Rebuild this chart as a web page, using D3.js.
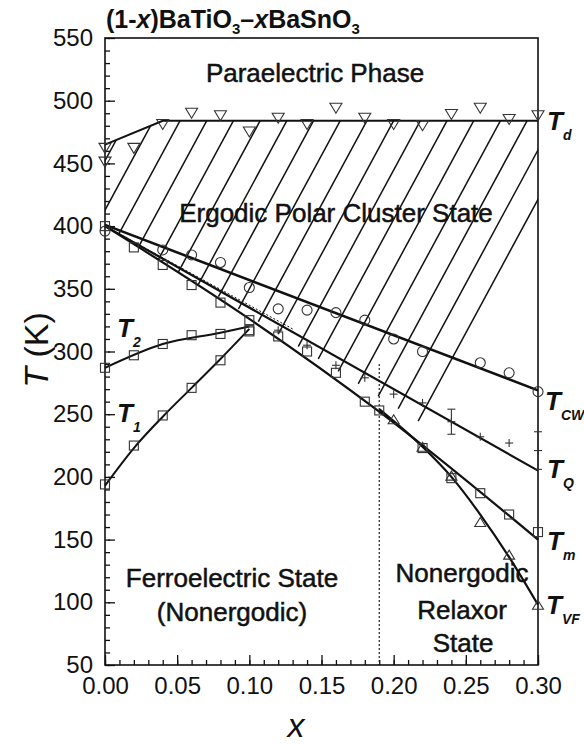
<!DOCTYPE html>
<html>
<head>
<meta charset="utf-8">
<script src="https://cdn.jsdelivr.net/npm/d3@7"></script>
<style>
  body { margin: 0; background: #fff; }
  svg text { font-family: "Liberation Sans", Arial, sans-serif; fill: #111; }
  .axis path { display: none; }
  .axis line { stroke: #111; stroke-width: 1.3; }
  .axis text { font-size: 24px; fill: #111; }
</style>
</head>
<body>
<div id="chart"></div>
<script>
// DATA
////////////////////////////
// composition x and temperature T (K)
var tdX   = [0, 0, 0.02, 0.04, 0.06, 0.08, 0.10, 0.12, 0.14, 0.16, 0.18, 0.20, 0.22, 0.24, 0.26, 0.28, 0.30];
var tdT   = [462, 451, 462, 481, 490, 488, 475, 486, 481, 494, 486, 481, 480, 489, 494, 485, 488];

var tcwX  = [0, 0.04, 0.06, 0.08, 0.10, 0.12, 0.14, 0.16, 0.18, 0.20, 0.22, 0.26, 0.28, 0.30];
var tcwT  = [396, 381, 377, 371, 351, 334, 333, 331, 325, 310, 300, 291, 283, 268];

var tqX   = [0.12, 0.14, 0.16, 0.18, 0.20, 0.22, 0.24, 0.26, 0.28, 0.30];
var tqT   = [317, 305, 289, 279, 266, 259, 244, 232, 227, 221];
var tqErr = [0, 0, 0, 0, 0, 0, 10, 0, 0, 15];

var tmX   = [0, 0.02, 0.04, 0.06, 0.08, 0.10, 0.12, 0.14, 0.16, 0.18, 0.19, 0.22, 0.24, 0.26, 0.28, 0.30];
var tmT   = [400, 383, 369, 353, 339, 325, 312, 300, 283, 260, 253, 223, 199, 187, 170, 156];

var tvfX  = [0.20, 0.22, 0.24, 0.26, 0.28, 0.30];
var tvfT  = [246, 224, 201, 164, 138, 98];

var t1X   = [0, 0.02, 0.04, 0.06, 0.08, 0.10];
var t1T   = [194, 225, 249, 271, 293, 316];
var t2X   = [0, 0.02, 0.04, 0.06, 0.08, 0.10];
var t2T   = [287, 297, 306, 313, 314, 317];

// guide lines drawn through the points
var tdLine   = [[0, 465], [0.04, 484], [0.30, 484]];
var tcwLine  = [[0, 401], [0.30, 269]];
var tqLine   = [[0, 400], [0.30, 205]];
var tmLine   = [[0, 400], [0.10, 326], [0.19, 252], [0.30, 150]];
var tvfLine  = [[0.19, 254], [0.22, 224], [0.24, 200], [0.26, 170], [0.28, 136], [0.30, 98]];
var t1Line   = [[0, 193], [0.02, 223], [0.04, 248], [0.06, 271], [0.08, 294], [0.10, 318]];
var t2Line   = [[0, 287], [0.04, 306], [0.08, 315], [0.10, 320]];
var dotLine  = [[0, 400], [0.13, 318]];
var boundaryX = 0.19, boundaryTop = 290;
// hatched (ergodic) region
var hatchArea = [[0, 400], [0, 465], [0.04, 484], [0.30, 484], [0.30, 185]];

var yTicks = d3.range(50, 551, 50);
var xTicks = [0, 0.05, 0.10, 0.15, 0.20, 0.25, 0.30];

// SETUP
////////////////////////////
var width = 584,
    height = 744;

var x = d3.scaleLinear().domain([0, 0.30]).range([105, 538]);
var y = d3.scaleLinear().domain([50, 550]).range([665, 38]);

var svg = d3.select("#chart").append("svg")
    .attr("width", width)
    .attr("height", height);

var line = d3.line()
    .x(function(d) { return x(d[0]); })
    .y(function(d) { return y(d[1]); });
var curve = d3.line()
    .x(function(d) { return x(d[0]); })
    .y(function(d) { return y(d[1]); })
    .curve(d3.curveMonotoneX);

// hatching, clipped to the ergodic region
svg.append("clipPath").attr("id", "hatchClip")
  .append("path")
    .attr("d", line(hatchArea) + "Z");

var hatch = svg.append("g").attr("clip-path", "url(#hatchClip)");
var slope = 1.85, yRef = y(484);
d3.range(-20, 16).forEach(function(k) {
  var cx = 180 + 26.7 * k, d = 500;
  hatch.append("line")
    .attr("x1", cx - d).attr("y1", yRef + slope * d)
    .attr("x2", cx + d).attr("y2", yRef - slope * d)
    .attr("stroke", "#111").attr("stroke-width", 1.5);
});

// axes: minor + major ticks pointing inward
svg.append("g").attr("class", "axis")
    .attr("transform", "translate(105,0)")
    .call(d3.axisLeft(y).tickValues(d3.range(50, 551, 10)).tickSize(-5).tickFormat(""));
svg.append("g").attr("class", "axis")
    .attr("transform", "translate(105,0)")
    .call(d3.axisLeft(y).tickValues(yTicks).tickSizeInner(-10).tickPadding(12))
  .selectAll("line").attr("x1", 3);
svg.append("g").attr("class", "axis")
    .attr("transform", "translate(0,665)")
    .call(d3.axisBottom(x).tickValues(d3.range(0, 0.3001, 0.01)).tickSize(-5).tickFormat(""));
svg.append("g").attr("class", "axis")
    .attr("transform", "translate(0,665)")
    .call(d3.axisBottom(x).tickValues(xTicks).tickSizeInner(-10).tickPadding(12).tickFormat(d3.format(".2f")));

// frame
svg.append("rect")
    .attr("x", 105).attr("y", 38)
    .attr("width", 433).attr("height", 627)
    .attr("fill", "none").attr("stroke", "#111").attr("stroke-width", 1.6);

// guide lines
function drawLine(pts, w, gen, dash) {
  svg.append("path")
    .attr("d", (gen || line)(pts))
    .attr("fill", "none")
    .attr("stroke", "#111")
    .attr("stroke-width", w)
    .attr("stroke-dasharray", dash || null);
}
drawLine(tdLine, 2);
drawLine(tcwLine, 2.6);
drawLine(tqLine, 2.2);
drawLine(tmLine, 2.2, curve);
drawLine(tvfLine, 2.2, curve);
drawLine(t1Line, 2, curve);
drawLine(t2Line, 2, curve);
drawLine(dotLine, 1, line, "2,2");
svg.append("line")
    .attr("x1", x(boundaryX)).attr("x2", x(boundaryX))
    .attr("y1", y(boundaryTop)).attr("y2", y(50))
    .attr("stroke", "#111").attr("stroke-width", 1.1)
    .attr("stroke-dasharray", "2,2");

// markers
var mk = { fill: "none", stroke: "#333", w: 1.1 };
function markers(xs, ts, type) {
  var g = svg.append("g");
  xs.forEach(function(xv, i) {
    var px = x(xv), py = y(ts[i]);
    var s;
    if (type === "circle") {
      s = g.append("circle").attr("cx", px).attr("cy", py).attr("r", 5);
    } else if (type === "square") {
      s = g.append("rect").attr("x", px - 4.5).attr("y", py - 4.5).attr("width", 9).attr("height", 9);
    } else if (type === "tridown") {
      s = g.append("path").attr("d", "M" + (px - 6) + "," + (py - 5) + "L" + (px + 6) + "," + (py - 5) + "L" + px + "," + (py + 5) + "Z");
    } else if (type === "triup") {
      s = g.append("path").attr("d", "M" + (px - 5.5) + "," + (py + 4.5) + "L" + (px + 5.5) + "," + (py + 4.5) + "L" + px + "," + (py - 4.5) + "Z");
    }
    s.attr("fill", mk.fill).attr("stroke", mk.stroke).attr("stroke-width", mk.w);
  });
}
markers(tdX, tdT, "tridown");
markers(tcwX, tcwT, "circle");
markers(tmX, tmT, "square");
markers(t1X, t1T, "square");
markers(t2X, t2T, "square");
markers(tvfX, tvfT, "triup");

// T_Q: small crosses with error bars
var tq = svg.append("g").attr("stroke", "#333").attr("stroke-width", 1.1);
tqX.forEach(function(xv, i) {
  var px = x(xv), py = y(tqT[i]);
  tq.append("line").attr("x1", px - 4).attr("x2", px + 4).attr("y1", py).attr("y2", py);
  tq.append("line").attr("x1", px).attr("x2", px).attr("y1", py - 4).attr("y2", py + 4);
  if (tqErr[i] > 0) {
    var top = y(tqT[i] + tqErr[i]), bot = y(tqT[i] - tqErr[i]);
    tq.append("line").attr("x1", px).attr("x2", px).attr("y1", top).attr("y2", bot);
    tq.append("line").attr("x1", px - 4).attr("x2", px + 4).attr("y1", top).attr("y2", top);
    tq.append("line").attr("x1", px - 4).attr("x2", px + 4).attr("y1", bot).attr("y2", bot);
  }
});

// TEXT
////////////////////////////
// title
var title = svg.append("text")
    .attr("x", 106).attr("y", 28)
    .style("font-size", "25px").style("font-weight", "bold");
title.append("tspan").text("(1-");
title.append("tspan").style("font-style", "italic").text("x");
title.append("tspan").text(")BaTiO");
title.append("tspan").attr("dy", 6).style("font-size", "15px").text("3");
title.append("tspan").attr("dy", -6).text("\u2013");
title.append("tspan").style("font-style", "italic").text("x");
title.append("tspan").text("BaSnO");
title.append("tspan").attr("dy", 6).style("font-size", "15px").text("3");

// region labels
function label(txt, cx, by) {
  svg.append("text")
    .attr("x", cx).attr("y", by)
    .attr("text-anchor", "middle")
    .style("font-size", "26px")
    .style("stroke", "#111").style("stroke-width", 0.5)
    .text(txt);
}
label("Paraelectric Phase", 315, 82);
label("Ergodic Polar Cluster State", 336, 222);
label("Ferroelectric State", 232, 587);
label("(Nonergodic)", 232, 621);
label("Nonergodic", 462, 582);
label("Relaxor", 462, 619);
label("State", 463, 652);

// curve names T_sub
function tLabel(sub, px, by) {
  var t = svg.append("text")
      .attr("x", px).attr("y", by)
      .style("font-weight", "bold").style("font-style", "italic");
  t.append("tspan").style("font-size", "26px").text("T");
  t.append("tspan").attr("dy", 10).attr("dx", 0).style("font-size", "14px").text(sub);
}
tLabel("d", 547, 130);
tLabel("CW", 545, 410);
tLabel("Q", 547, 478);
tLabel("m", 547, 550);
tLabel("VF", 546, 614);
tLabel("2", 117, 337);
tLabel("1", 117, 422);

// axis titles
var yl = svg.append("text")
    .attr("transform", "translate(48,350) rotate(-90)")
    .attr("text-anchor", "middle")
    .style("font-size", "34px");
yl.append("tspan").style("font-style", "italic").text("T");
yl.append("tspan").text(" (K)");

svg.append("text")
    .attr("x", 296).attr("y", 737)
    .attr("text-anchor", "middle")
    .style("font-size", "34px").style("font-style", "italic")
    .text("x");
</script>
</body>
</html>
